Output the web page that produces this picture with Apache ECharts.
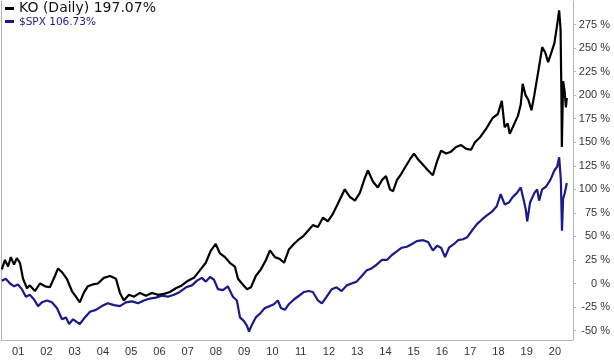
<!DOCTYPE html>
<html>
<head>
<meta charset="utf-8">
<script src="https://cdn.jsdelivr.net/npm/echarts@6/dist/echarts.min.js"></script>
<style>
html,body{margin:0;padding:0;background:#fff;}
#chart{width:614px;height:360px;}
</style>
</head>
<body>
<div id="chart"></div>
<script>
// ---- data (decimal years, % change) ----
var koDates = [2000.42,2000.53,2000.64,2000.74,2000.85,2000.95,2001.06,2001.17,2001.31,2001.41,2001.59,2001.77,2001.95,2002.12,2002.30,2002.41,2002.55,2002.72,2002.90,2003.04,2003.18,2003.32,2003.46,2003.64,2003.82,2004.03,2004.25,2004.46,2004.60,2004.74,2004.92,2005.10,2005.31,2005.52,2005.73,2005.94,2006.16,2006.37,2006.58,2006.79,2007.01,2007.22,2007.43,2007.64,2007.82,2007.99,2008.14,2008.32,2008.49,2008.67,2008.78,2008.92,2009.10,2009.24,2009.41,2009.59,2009.77,2009.91,2010.09,2010.26,2010.41,2010.58,2010.76,2010.90,2011.08,2011.26,2011.43,2011.61,2011.79,2011.96,2012.14,2012.32,2012.56,2012.74,2012.92,2013.09,2013.27,2013.38,2013.56,2013.73,2013.88,2014.02,2014.16,2014.27,2014.41,2014.55,2014.73,2014.87,2015.01,2015.15,2015.33,2015.51,2015.68,2015.83,2015.97,2016.15,2016.32,2016.50,2016.68,2016.86,2017.03,2017.17,2017.34,2017.58,2017.80,2017.98,2018.12,2018.22,2018.33,2018.40,2018.54,2018.69,2018.79,2018.86,2018.96,2019.06,2019.17,2019.27,2019.41,2019.55,2019.66,2019.76,2019.87,2019.98,2020.08,2020.15,2020.20,2020.23,2020.245,2020.29,2020.34,2020.39,2020.42];
var koValues = [15,25,18,28,20,27,22,5,-5,-2,-8,0,-3,-4,8,16,12,5,-8,-14,-20,-10,-3,-1,0,6,8,5,-10,-18,-12,-14,-10,-13,-10,-12,-11,-9,-5,-2,3,6,14,22,35,42,32,28,22,18,5,0,-6,-4,8,15,25,35,28,26,22,36,42,46,50,56,62,60,70,66,74,85,100,92,88,96,112,120,108,102,110,114,100,98,110,116,125,132,138,132,126,120,115,130,141,138,140,145,147,143,142,150,155,165,176,180,194,166,170,159,168,178,190,212,200,195,184,200,225,251,245,235,245,255,275,290,270,200,145,215,205,187,197.07];

var spxDates = [2000.42,2000.56,2000.71,2000.85,2000.99,2001.13,2001.27,2001.41,2001.56,2001.70,2001.84,2002.02,2002.19,2002.37,2002.55,2002.69,2002.80,2002.94,2003.08,2003.18,2003.36,2003.54,2003.75,2003.96,2004.17,2004.39,2004.60,2004.81,2005.03,2005.24,2005.45,2005.66,2005.87,2006.09,2006.30,2006.51,2006.72,2006.94,2007.15,2007.33,2007.50,2007.64,2007.79,2007.93,2008.07,2008.25,2008.42,2008.60,2008.74,2008.85,2008.99,2009.10,2009.17,2009.27,2009.41,2009.56,2009.73,2009.91,2010.05,2010.19,2010.30,2010.44,2010.58,2010.76,2010.94,2011.12,2011.29,2011.43,2011.61,2011.75,2011.92,2012.10,2012.27,2012.45,2012.63,2012.80,2012.98,2013.16,2013.34,2013.51,2013.69,2013.87,2014.05,2014.22,2014.40,2014.58,2014.76,2014.94,2015.11,2015.33,2015.51,2015.68,2015.83,2015.97,2016.11,2016.25,2016.43,2016.57,2016.75,2016.89,2017.06,2017.24,2017.42,2017.58,2017.76,2017.94,2018.08,2018.12,2018.22,2018.37,2018.51,2018.65,2018.79,2018.90,2018.97,2019.02,2019.12,2019.27,2019.37,2019.44,2019.55,2019.69,2019.84,2019.98,2020.08,2020.15,2020.21,2020.25,2020.29,2020.34,2020.39,2020.42];
var spxValues = [3,5,0,-3,-1,-6,-14,-12,-17,-24,-20,-18,-20,-26,-38,-36,-43,-38,-41,-43,-36,-30,-28,-24,-21,-23,-24,-20,-19,-21,-18,-16,-15,-13,-14,-12,-9,-4,-2,3,6,2,7,4,-6,-7,-3,-14,-18,-36,-40,-45,-51,-44,-36,-32,-26,-24,-22,-18,-26,-28,-22,-17,-13,-9,-8,-9,-18,-21,-14,-6,-4,-8,-2,0,2,8,14,16,20,25,25,30,34,38,39,42,45,46,44,35,40,38,28,38,42,46,47,49,56,63,68,72,76,82,95,97,84,86,92,96,102,88,78,66,86,96,100,88,100,103,110,120,124,134,110,56,90,95,102,106.73];

var yearTicks = [2001,2002,2003,2004,2005,2006,2007,2008,2009,2010,2011,2012,2013,2014,2015,2016,2017,2018,2019,2020];
var pctTicks = [-50,-25,0,25,50,75,100,125,150,175,200,225,250,275];

var koName = 'KO (Daily) 197.07%';
var spxName = '$SPX 106.73%';

function pairs(xs, ys){ return xs.map(function(x,i){ return [x, ys[i]]; }); }

var chart = echarts.init(document.getElementById('chart'), null, {renderer:'canvas'});
chart.setOption({
  animation:false,
  backgroundColor:'#fff',
  grid:{left:1, right:41, top:1, bottom:20},
  xAxis:{
    type:'value', min:2000.39, max:2020.64,
    splitLine:{show:false},
    axisLine:{show:true, onZero:false, lineStyle:{color:'#b4b4b4', width:1}},
    axisTick:{show:false},
    axisLabel:{
      customValues: yearTicks,
      formatter:function(v){ var s = String(Math.round(v)%100); return s.length<2?'0'+s:s; },
      color:'#333', fontSize:11, fontFamily:'Liberation Sans', margin:6
    }
  },
  yAxis:[{
    type:'value', position:'right', min:-60, max:300,
    splitLine:{show:false},
    axisLine:{show:true, onZero:false, lineStyle:{color:'#b4b4b4', width:1}},
    axisTick:{show:true, customValues: pctTicks, length:3, lineStyle:{color:'#b4b4b4'}},
    axisLabel:{
      customValues: pctTicks,
      formatter:function(v){ return v + ' %'; },
      align:'right', margin:37,
      color:'#333', fontSize:11, fontFamily:'Liberation Sans'
    }
  },{
    type:'value', position:'left', min:-60, max:300,
    splitLine:{show:false},
    axisLine:{show:true, onZero:false, lineStyle:{color:'#b4b4b4', width:1}},
    axisTick:{show:false}, axisLabel:{show:false}
  }],
  series:[{
    name: spxName, type:'line', showSymbol:false, z:2,
    data: pairs(spxDates, spxValues),
    lineStyle:{color:'#1a1a8c', width:2.2}, itemStyle:{color:'#1a1a8c'}
  },{
    name: koName, type:'line', showSymbol:false, z:3,
    data: pairs(koDates, koValues),
    lineStyle:{color:'#000', width:2.2}, itemStyle:{color:'#000'}
  }],
  graphic:[
    {type:'rect', shape:{x:5,y:7,width:9,height:3}, style:{fill:'#000'}},
    {type:'text', x:19, y:8, style:{text:koName, fill:'#111', font:'14px "DejaVu Sans"', textVerticalAlign:'middle'}},
    {type:'rect', shape:{x:5,y:20,width:9,height:3}, style:{fill:'#1a1a8c'}},
    {type:'text', x:19, y:22, style:{text:spxName, fill:'#1a1a8c', font:'10.5px "DejaVu Sans"', textVerticalAlign:'middle'}}
  ]
});
</script>
</body>
</html>
